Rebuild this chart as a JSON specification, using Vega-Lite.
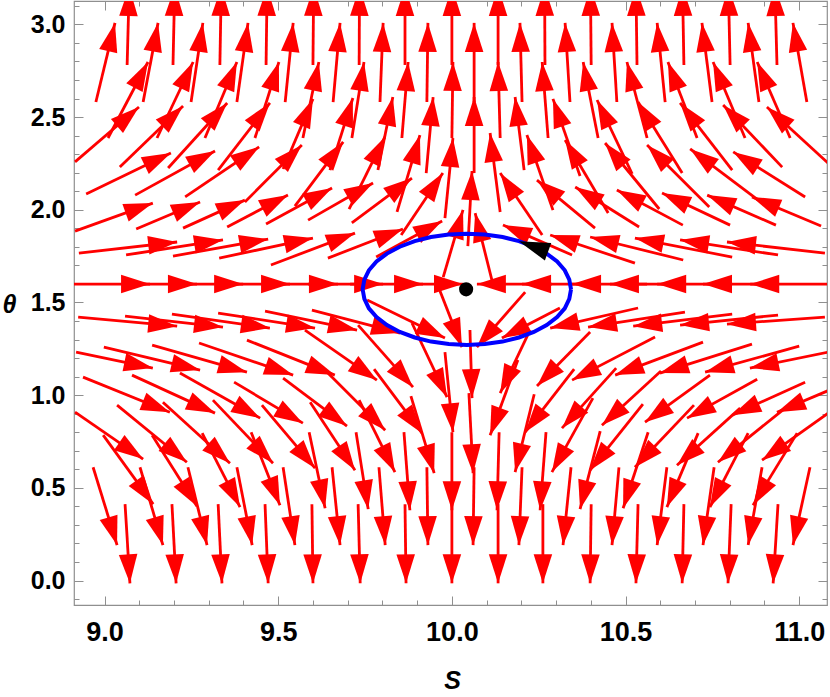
{
"$schema":"https://vega.github.io/schema/vega-lite/v6.json",
"width":753,"height":604,"autosize":"none",
"padding":{"left":74,"top":1,"right":3,"bottom":92},
"background":"white",
"config":{"font":"Liberation Sans","view":{"stroke":"#8f8f8f","strokeWidth":1.2}},
"datasets":{
"arrows":[
{"s0":9.065,"t0":2.781,"s1":9.071,"t1":3.202,"a":1.5},
{"s0":9.197,"t0":2.781,"s1":9.202,"t1":3.202,"a":1.3},
{"s0":9.332,"t0":2.781,"s1":9.336,"t1":3.202,"a":1.1},
{"s0":9.465,"t0":2.781,"s1":9.468,"t1":3.202,"a":0.8},
{"s0":9.600,"t0":2.781,"s1":9.602,"t1":3.202,"a":0.6},
{"s0":9.733,"t0":2.781,"s1":9.734,"t1":3.202,"a":0.3},
{"s0":9.865,"t0":2.781,"s1":9.865,"t1":3.202,"a":0},
{"s0":10.000,"t0":2.781,"s1":10.000,"t1":3.202,"a":0},
{"s0":10.133,"t0":2.781,"s1":10.133,"t1":3.202,"a":0},
{"s0":10.268,"t0":2.781,"s1":10.267,"t1":3.202,"a":-0.3},
{"s0":10.401,"t0":2.781,"s1":10.399,"t1":3.202,"a":-0.6},
{"s0":10.533,"t0":2.781,"s1":10.530,"t1":3.202,"a":-0.8},
{"s0":10.668,"t0":2.781,"s1":10.664,"t1":3.202,"a":-1.1},
{"s0":10.801,"t0":2.781,"s1":10.796,"t1":3.202,"a":-1.3},
{"s0":10.936,"t0":2.781,"s1":10.930,"t1":3.202,"a":-1.5},
{"s0":8.975,"t0":2.581,"s1":9.030,"t1":3.008,"a":13.5},
{"s0":9.111,"t0":2.581,"s1":9.154,"t1":3.008,"a":10.7},
{"s0":9.249,"t0":2.581,"s1":9.283,"t1":3.008,"a":8.6},
{"s0":9.381,"t0":2.581,"s1":9.413,"t1":3.008,"a":7.9},
{"s0":9.520,"t0":2.581,"s1":9.543,"t1":3.008,"a":5.8},
{"s0":9.658,"t0":2.581,"s1":9.678,"t1":3.008,"a":5.1},
{"s0":9.793,"t0":2.581,"s1":9.802,"t1":3.008,"a":2.2},
{"s0":9.928,"t0":2.581,"s1":9.931,"t1":3.008,"a":0.7},
{"s0":10.064,"t0":2.581,"s1":10.064,"t1":3.008,"a":0},
{"s0":10.202,"t0":2.581,"s1":10.196,"t1":3.008,"a":-1.4},
{"s0":10.340,"t0":2.581,"s1":10.326,"t1":3.008,"a":-3.6},
{"s0":10.475,"t0":2.581,"s1":10.461,"t1":3.008,"a":-3.6},
{"s0":10.614,"t0":2.581,"s1":10.591,"t1":3.008,"a":-5.8},
{"s0":10.749,"t0":2.581,"s1":10.720,"t1":3.008,"a":-7.2},
{"s0":10.884,"t0":2.581,"s1":10.853,"t1":3.008,"a":-7.9},
{"s0":11.022,"t0":2.581,"s1":10.982,"t1":3.008,"a":-10.0},
{"s0":9.010,"t0":2.387,"s1":9.125,"t1":2.797,"a":27.8},
{"s0":9.151,"t0":2.387,"s1":9.255,"t1":2.797,"a":25.3},
{"s0":9.289,"t0":2.387,"s1":9.381,"t1":2.797,"a":22.8},
{"s0":9.433,"t0":2.387,"s1":9.502,"t1":2.797,"a":17.5},
{"s0":9.571,"t0":2.387,"s1":9.617,"t1":2.797,"a":11.9},
{"s0":9.712,"t0":2.387,"s1":9.747,"t1":2.797,"a":9.0},
{"s0":9.856,"t0":2.387,"s1":9.874,"t1":2.797,"a":4.5},
{"s0":10.000,"t0":2.387,"s1":10.003,"t1":2.797,"a":0.8},
{"s0":10.139,"t0":2.387,"s1":10.133,"t1":2.797,"a":-1.5},
{"s0":10.277,"t0":2.387,"s1":10.260,"t1":2.797,"a":-4.5},
{"s0":10.421,"t0":2.387,"s1":10.378,"t1":2.797,"a":-11.2},
{"s0":10.562,"t0":2.387,"s1":10.504,"t1":2.797,"a":-14.8},
{"s0":10.706,"t0":2.387,"s1":10.622,"t1":2.797,"a":-20.9},
{"s0":10.844,"t0":2.387,"s1":10.752,"t1":2.797,"a":-22.8},
{"s0":10.974,"t0":2.387,"s1":10.879,"t1":2.797,"a":-23.5},
{"s0":8.915,"t0":2.258,"s1":9.099,"t1":2.554,"a":49.3},
{"s0":9.044,"t0":2.230,"s1":9.226,"t1":2.560,"a":45.9},
{"s0":9.183,"t0":2.225,"s1":9.353,"t1":2.576,"a":42.2},
{"s0":9.327,"t0":2.214,"s1":9.476,"t1":2.576,"a":37.8},
{"s0":9.514,"t0":2.220,"s1":9.600,"t1":2.598,"a":23.2},
{"s0":9.649,"t0":2.214,"s1":9.715,"t1":2.603,"a":17.7},
{"s0":9.787,"t0":2.214,"s1":9.830,"t1":2.608,"a":11.6},
{"s0":9.926,"t0":2.198,"s1":9.946,"t1":2.608,"a":5.3},
{"s0":10.064,"t0":2.198,"s1":10.064,"t1":2.608,"a":0},
{"s0":10.208,"t0":2.214,"s1":10.182,"t1":2.608,"a":-7.0},
{"s0":10.369,"t0":2.182,"s1":10.291,"t1":2.598,"a":-19.3},
{"s0":10.519,"t0":2.193,"s1":10.418,"t1":2.592,"a":-25.6},
{"s0":10.663,"t0":2.198,"s1":10.536,"t1":2.581,"a":-32.2},
{"s0":10.807,"t0":2.214,"s1":10.657,"t1":2.576,"a":-37.8},
{"s0":10.951,"t0":2.230,"s1":10.781,"t1":2.565,"a":-43.6},
{"s0":11.083,"t0":2.252,"s1":10.907,"t1":2.554,"a":-47.4},
{"s0":8.947,"t0":2.085,"s1":9.191,"t1":2.306,"a":64.3},
{"s0":9.088,"t0":2.079,"s1":9.318,"t1":2.317,"a":61.2},
{"s0":9.232,"t0":2.069,"s1":9.445,"t1":2.339,"a":55.9},
{"s0":9.404,"t0":2.042,"s1":9.568,"t1":2.349,"a":45.0},
{"s0":9.548,"t0":2.020,"s1":9.687,"t1":2.366,"a":36.9},
{"s0":9.704,"t0":2.004,"s1":9.807,"t1":2.393,"a":26.6},
{"s0":9.842,"t0":1.988,"s1":9.908,"t1":2.403,"a":16.6},
{"s0":9.980,"t0":1.955,"s1":10.003,"t1":2.387,"a":5.7},
{"s0":10.139,"t0":1.988,"s1":10.110,"t1":2.414,"a":-7.2},
{"s0":10.291,"t0":1.998,"s1":10.216,"t1":2.403,"a":-19.1},
{"s0":10.450,"t0":1.982,"s1":10.326,"t1":2.376,"a":-30.5},
{"s0":10.597,"t0":2.004,"s1":10.441,"t1":2.360,"a":-39.3},
{"s0":10.741,"t0":2.015,"s1":10.562,"t1":2.349,"a":-45.0},
{"s0":10.882,"t0":2.052,"s1":10.686,"t1":2.328,"a":-53.1},
{"s0":11.017,"t0":2.069,"s1":10.810,"t1":2.312,"a":-58.0},
{"s0":8.915,"t0":1.885,"s1":9.139,"t1":2.036,"a":70.3},
{"s0":9.091,"t0":1.896,"s1":9.275,"t1":2.042,"a":67.1},
{"s0":9.226,"t0":1.901,"s1":9.404,"t1":2.052,"a":65.7},
{"s0":9.353,"t0":1.907,"s1":9.528,"t1":2.079,"a":62.3},
{"s0":9.465,"t0":1.923,"s1":9.655,"t1":2.117,"a":61.4},
{"s0":9.586,"t0":1.944,"s1":9.773,"t1":2.144,"a":60.4},
{"s0":9.712,"t0":1.929,"s1":9.885,"t1":2.171,"a":53.1},
{"s0":9.854,"t0":1.864,"s1":9.974,"t1":2.198,"a":34.1},
{"s0":10.046,"t0":1.804,"s1":10.058,"t1":2.209,"a":3.1},
{"s0":10.260,"t0":1.864,"s1":10.139,"t1":2.198,"a":-34.1},
{"s0":10.412,"t0":1.901,"s1":10.245,"t1":2.160,"a":-50.4},
{"s0":10.539,"t0":1.907,"s1":10.355,"t1":2.123,"a":-58.0},
{"s0":10.665,"t0":1.917,"s1":10.475,"t1":2.106,"a":-62.1},
{"s0":10.801,"t0":1.917,"s1":10.605,"t1":2.090,"a":-64.8},
{"s0":10.933,"t0":1.917,"s1":10.735,"t1":2.079,"a":-66.5},
{"s0":11.063,"t0":1.912,"s1":10.864,"t1":2.069,"a":-67.2},
{"s0":8.926,"t0":1.766,"s1":9.209,"t1":1.826,"a":83.6},
{"s0":9.062,"t0":1.756,"s1":9.341,"t1":1.837,"a":81.2},
{"s0":9.197,"t0":1.750,"s1":9.471,"t1":1.842,"a":79.9},
{"s0":9.330,"t0":1.739,"s1":9.600,"t1":1.847,"a":78.0},
{"s0":9.479,"t0":1.702,"s1":9.721,"t1":1.874,"a":69.1},
{"s0":9.643,"t0":1.739,"s1":9.859,"t1":1.896,"a":68.9},
{"s0":9.782,"t0":1.745,"s1":9.972,"t1":1.939,"a":61.4},
{"s0":9.975,"t0":1.637,"s1":10.032,"t1":1.999,"a":16.6},
{"s0":10.116,"t0":1.615,"s1":10.067,"t1":1.982,"a":-14.0},
{"s0":10.346,"t0":1.756,"s1":10.147,"t1":1.918,"a":-66.5},
{"s0":10.527,"t0":1.712,"s1":10.283,"t1":1.864,"a":-71.8},
{"s0":10.666,"t0":1.729,"s1":10.398,"t1":1.853,"a":-76.1},
{"s0":10.807,"t0":1.745,"s1":10.527,"t1":1.847,"a":-78.9},
{"s0":10.939,"t0":1.756,"s1":10.657,"t1":1.837,"a":-81.3},
{"s0":11.074,"t0":1.766,"s1":10.792,"t1":1.826,"a":-83.6},
{"s0":8.912,"t0":1.599,"s1":9.131,"t1":1.599,"a":90},
{"s0":9.050,"t0":1.599,"s1":9.266,"t1":1.599,"a":90},
{"s0":9.183,"t0":1.599,"s1":9.399,"t1":1.599,"a":90},
{"s0":9.318,"t0":1.599,"s1":9.534,"t1":1.599,"a":90},
{"s0":9.456,"t0":1.599,"s1":9.672,"t1":1.599,"a":90},
{"s0":9.586,"t0":1.599,"s1":9.802,"t1":1.599,"a":90},
{"s0":9.707,"t0":1.599,"s1":9.917,"t1":1.599,"a":90},
{"s0":9.836,"t0":1.599,"s1":10.032,"t1":1.599,"a":90},
{"s0":10.288,"t0":1.599,"s1":10.072,"t1":1.599,"a":-90},
{"s0":10.418,"t0":1.599,"s1":10.202,"t1":1.599,"a":-90},
{"s0":10.562,"t0":1.599,"s1":10.346,"t1":1.599,"a":-90},
{"s0":10.671,"t0":1.599,"s1":10.455,"t1":1.599,"a":-90},
{"s0":10.807,"t0":1.599,"s1":10.591,"t1":1.599,"a":-90},
{"s0":10.939,"t0":1.599,"s1":10.723,"t1":1.599,"a":-90},
{"s0":11.080,"t0":1.599,"s1":10.859,"t1":1.599,"a":-90},
{"s0":8.924,"t0":1.421,"s1":9.209,"t1":1.372,"a":95.2},
{"s0":9.059,"t0":1.426,"s1":9.341,"t1":1.367,"a":96.4},
{"s0":9.194,"t0":1.437,"s1":9.476,"t1":1.362,"a":98.1},
{"s0":9.327,"t0":1.443,"s1":9.606,"t1":1.362,"a":98.8},
{"s0":9.462,"t0":1.453,"s1":9.727,"t1":1.351,"a":101.7},
{"s0":9.597,"t0":1.459,"s1":9.851,"t1":1.335,"a":104.6},
{"s0":9.756,"t0":1.513,"s1":9.980,"t1":1.308,"a":116.0},
{"s0":9.957,"t0":1.604,"s1":10.029,"t1":1.259,"a":158.7},
{"s0":10.211,"t0":1.556,"s1":10.072,"t1":1.259,"a":-138.9},
{"s0":10.311,"t0":1.470,"s1":10.144,"t1":1.308,"a":-117.3},
{"s0":10.536,"t0":1.470,"s1":10.283,"t1":1.362,"a":-102.8},
{"s0":10.671,"t0":1.448,"s1":10.392,"t1":1.367,"a":-98.8},
{"s0":10.807,"t0":1.437,"s1":10.522,"t1":1.372,"a":-96.9},
{"s0":10.939,"t0":1.432,"s1":10.657,"t1":1.378,"a":-95.8},
{"s0":11.074,"t0":1.421,"s1":10.792,"t1":1.383,"a":-94.1},
{"s0":8.918,"t0":1.232,"s1":9.139,"t1":1.146,"a":101.7},
{"s0":8.998,"t0":1.259,"s1":9.275,"t1":1.135,"a":103.5},
{"s0":9.137,"t0":1.270,"s1":9.410,"t1":1.124,"a":105.9},
{"s0":9.272,"t0":1.281,"s1":9.543,"t1":1.108,"a":108.8},
{"s0":9.410,"t0":1.297,"s1":9.663,"t1":1.108,"a":111.7},
{"s0":9.577,"t0":1.351,"s1":9.784,"t1":1.081,"a":124.8},
{"s0":9.730,"t0":1.378,"s1":9.888,"t1":1.043,"a":138.4},
{"s0":9.885,"t0":1.389,"s1":9.986,"t1":0.989,"a":154.7},
{"s0":10.052,"t0":1.351,"s1":10.058,"t1":0.984,"a":178.3},
{"s0":10.225,"t0":1.351,"s1":10.139,"t1":1.011,"a":-154.5},
{"s0":10.398,"t0":1.340,"s1":10.245,"t1":1.049,"a":-135.5},
{"s0":10.585,"t0":1.313,"s1":10.346,"t1":1.081,"a":-117.4},
{"s0":10.723,"t0":1.286,"s1":10.470,"t1":1.108,"a":-110.6},
{"s0":10.864,"t0":1.275,"s1":10.599,"t1":1.119,"a":-107.5},
{"s0":11.000,"t0":1.264,"s1":10.729,"t1":1.124,"a":-105.5},
{"s0":11.083,"t0":1.232,"s1":10.858,"t1":1.146,"a":-101.6},
{"s0":8.938,"t0":1.097,"s1":9.188,"t1":0.908,"a":111.9},
{"s0":9.079,"t0":1.108,"s1":9.318,"t1":0.903,"a":114.6},
{"s0":9.217,"t0":1.119,"s1":9.448,"t1":0.876,"a":119.4},
{"s0":9.373,"t0":1.070,"s1":9.571,"t1":0.849,"a":120.5},
{"s0":9.514,"t0":1.092,"s1":9.698,"t1":0.833,"a":126.5},
{"s0":9.643,"t0":1.119,"s1":9.808,"t1":0.811,"a":135.0},
{"s0":9.776,"t0":1.140,"s1":9.914,"t1":0.795,"a":143.1},
{"s0":9.980,"t0":1.232,"s1":10.003,"t1":0.800,"a":174.3},
{"s0":10.190,"t0":1.189,"s1":10.110,"t1":0.784,"a":-159.7},
{"s0":10.352,"t0":1.140,"s1":10.211,"t1":0.800,"a":-142.4},
{"s0":10.473,"t0":1.146,"s1":10.317,"t1":0.822,"a":-138.0},
{"s0":10.602,"t0":1.130,"s1":10.432,"t1":0.838,"a":-132.3},
{"s0":10.743,"t0":1.108,"s1":10.556,"t1":0.854,"a":-125.5},
{"s0":10.879,"t0":1.086,"s1":10.677,"t1":0.876,"a":-119.0},
{"s0":11.017,"t0":1.070,"s1":10.807,"t1":0.892,"a":-114.4},
{"s0":11.149,"t0":1.076,"s1":10.936,"t1":0.908,"a":-112.6},
{"s0":8.915,"t0":0.908,"s1":9.111,"t1":0.655,"a":124.6},
{"s0":9.036,"t0":0.946,"s1":9.237,"t1":0.638,"a":129.2},
{"s0":9.168,"t0":0.962,"s1":9.361,"t1":0.633,"a":132.3},
{"s0":9.312,"t0":0.973,"s1":9.485,"t1":0.633,"a":136.4},
{"s0":9.453,"t0":0.946,"s1":9.606,"t1":0.606,"a":140.1},
{"s0":9.592,"t0":0.962,"s1":9.721,"t1":0.595,"a":146.5},
{"s0":9.733,"t0":0.973,"s1":9.836,"t1":0.585,"a":153.4},
{"s0":9.882,"t0":0.995,"s1":9.949,"t1":0.579,"a":163.4},
{"s0":10.049,"t0":1.011,"s1":10.061,"t1":0.579,"a":177.1},
{"s0":10.237,"t0":1.005,"s1":10.182,"t1":0.585,"a":-166.3},
{"s0":10.406,"t0":0.984,"s1":10.288,"t1":0.585,"a":-151.0},
{"s0":10.550,"t0":0.951,"s1":10.398,"t1":0.595,"a":-141.2},
{"s0":10.697,"t0":0.946,"s1":10.527,"t1":0.611,"a":-136.4},
{"s0":10.830,"t0":0.930,"s1":10.648,"t1":0.622,"a":-132.1},
{"s0":10.956,"t0":0.925,"s1":10.766,"t1":0.638,"a":-128.8},
{"s0":11.092,"t0":0.914,"s1":10.893,"t1":0.649,"a":-125.4},
{"s0":8.996,"t0":0.784,"s1":9.140,"t1":0.412,"a":144.1},
{"s0":9.137,"t0":0.784,"s1":9.266,"t1":0.401,"a":147.6},
{"s0":9.281,"t0":0.795,"s1":9.390,"t1":0.396,"a":152.8},
{"s0":9.422,"t0":0.800,"s1":9.505,"t1":0.406,"a":158.3},
{"s0":9.589,"t0":0.800,"s1":9.635,"t1":0.390,"a":168.1},
{"s0":9.724,"t0":0.800,"s1":9.759,"t1":0.385,"a":171.1},
{"s0":9.862,"t0":0.800,"s1":9.879,"t1":0.379,"a":175.6},
{"s0":10.000,"t0":0.800,"s1":10.000,"t1":0.379,"a":180},
{"s0":10.136,"t0":0.800,"s1":10.130,"t1":0.379,"a":-178.5},
{"s0":10.271,"t0":0.800,"s1":10.254,"t1":0.379,"a":-175.6},
{"s0":10.427,"t0":0.806,"s1":10.369,"t1":0.385,"a":-165.6},
{"s0":10.565,"t0":0.800,"s1":10.493,"t1":0.390,"a":-161.8},
{"s0":10.709,"t0":0.795,"s1":10.619,"t1":0.396,"a":-157.3},
{"s0":10.853,"t0":0.795,"s1":10.743,"t1":0.396,"a":-152.8},
{"s0":10.994,"t0":0.795,"s1":10.867,"t1":0.406,"a":-148.6},
{"s0":8.967,"t0":0.611,"s1":9.036,"t1":0.191,"a":163.0},
{"s0":9.102,"t0":0.611,"s1":9.168,"t1":0.191,"a":163.6},
{"s0":9.240,"t0":0.611,"s1":9.295,"t1":0.191,"a":166.3},
{"s0":9.381,"t0":0.611,"s1":9.425,"t1":0.191,"a":169.1},
{"s0":9.514,"t0":0.611,"s1":9.548,"t1":0.191,"a":171.3},
{"s0":9.655,"t0":0.611,"s1":9.678,"t1":0.191,"a":174.1},
{"s0":9.790,"t0":0.611,"s1":9.808,"t1":0.191,"a":175.6},
{"s0":9.928,"t0":0.611,"s1":9.931,"t1":0.191,"a":179.3},
{"s0":10.064,"t0":0.611,"s1":10.061,"t1":0.191,"a":-179.3},
{"s0":10.202,"t0":0.611,"s1":10.193,"t1":0.191,"a":-177.8},
{"s0":10.343,"t0":0.611,"s1":10.320,"t1":0.191,"a":-174.1},
{"s0":10.481,"t0":0.611,"s1":10.461,"t1":0.191,"a":-174.9},
{"s0":10.619,"t0":0.611,"s1":10.591,"t1":0.191,"a":-172.7},
{"s0":10.755,"t0":0.611,"s1":10.723,"t1":0.191,"a":-172.0},
{"s0":10.893,"t0":0.611,"s1":10.853,"t1":0.191,"a":-169.8},
{"s0":11.031,"t0":0.611,"s1":10.982,"t1":0.191,"a":-167.7},
{"s0":9.059,"t0":0.412,"s1":9.073,"t1":-0.015,"a":176.4},
{"s0":9.194,"t0":0.412,"s1":9.206,"t1":-0.015,"a":177.1},
{"s0":9.327,"t0":0.412,"s1":9.338,"t1":-0.015,"a":177.1},
{"s0":9.462,"t0":0.412,"s1":9.471,"t1":-0.015,"a":177.8},
{"s0":9.597,"t0":0.412,"s1":9.600,"t1":-0.015,"a":179.3},
{"s0":9.730,"t0":0.412,"s1":9.736,"t1":-0.015,"a":178.5},
{"s0":9.865,"t0":0.412,"s1":9.868,"t1":-0.015,"a":179.3},
{"s0":10.000,"t0":0.412,"s1":10.000,"t1":-0.015,"a":180},
{"s0":10.133,"t0":0.412,"s1":10.133,"t1":-0.015,"a":180},
{"s0":10.262,"t0":0.412,"s1":10.262,"t1":-0.015,"a":180},
{"s0":10.401,"t0":0.412,"s1":10.398,"t1":-0.015,"a":-179.3},
{"s0":10.536,"t0":0.412,"s1":10.530,"t1":-0.015,"a":-178.5},
{"s0":10.668,"t0":0.412,"s1":10.663,"t1":-0.015,"a":-178.5},
{"s0":10.804,"t0":0.412,"s1":10.795,"t1":-0.015,"a":-177.8},
{"s0":10.939,"t0":0.412,"s1":10.925,"t1":-0.015,"a":-176.4}
],
"orbit":[
{"k":0,"s":10.343,"t":1.5708},{"k":1,"s":10.338,"t":1.6229},{"k":2,"s":10.325,"t":1.6734},{"k":3,"s":10.303,"t":1.7208},
{"k":4,"s":10.273,"t":1.7636},{"k":5,"s":10.236,"t":1.8006},{"k":6,"s":10.193,"t":1.8306},{"k":7,"s":10.146,"t":1.8527},
{"k":8,"s":10.095,"t":1.8662},{"k":9,"s":10.043,"t":1.8708},{"k":10,"s":9.991,"t":1.8662},{"k":11,"s":9.940,"t":1.8527},
{"k":12,"s":9.893,"t":1.8306},{"k":13,"s":9.850,"t":1.8006},{"k":14,"s":9.813,"t":1.7636},{"k":15,"s":9.783,"t":1.7208},
{"k":16,"s":9.761,"t":1.6734},{"k":17,"s":9.748,"t":1.6229},{"k":18,"s":9.743,"t":1.5708},{"k":19,"s":9.748,"t":1.5187},
{"k":20,"s":9.761,"t":1.4682},{"k":21,"s":9.783,"t":1.4208},{"k":22,"s":9.813,"t":1.3780},{"k":23,"s":9.850,"t":1.3410},
{"k":24,"s":9.893,"t":1.3110},{"k":25,"s":9.940,"t":1.2889},{"k":26,"s":9.991,"t":1.2754},{"k":27,"s":10.043,"t":1.2708},
{"k":28,"s":10.095,"t":1.2754},{"k":29,"s":10.146,"t":1.2889},{"k":30,"s":10.193,"t":1.3110},{"k":31,"s":10.236,"t":1.3410},
{"k":32,"s":10.273,"t":1.3780},{"k":33,"s":10.303,"t":1.4208},{"k":34,"s":10.325,"t":1.4682},{"k":35,"s":10.338,"t":1.5187},
{"k":36,"s":10.343,"t":1.5708}
],
"marker":[{"s":10.193,"t":1.8306,"a":-70}],
"dot":[{"s":10.041,"t":1.5708}]
},
"layer":[
{"data":{"name":"arrows"},
 "mark":{"type":"rule","color":"#ff0000","strokeWidth":2.8,"clip":true},
 "encoding":{
  "x":{"field":"s0","type":"quantitative","scale":{"domain":[8.912,11.08],"nice":false,"zero":false},
   "axis":{"orient":"bottom","values":[9,9.1,9.2,9.3,9.4,9.5,9.6,9.7,9.8,9.9,10,10.1,10.2,10.3,10.4,10.5,10.6,10.7,10.8,10.9,11],
    "grid":false,"domain":false,"tickColor":"#8f8f8f","tickWidth":1,
    "tickSize":{"condition":{"test":"abs(datum.value*2-round(datum.value*2))<0.001","value":-9},"value":-5},
    "labelExpr":"abs(datum.value*2-round(datum.value*2))<0.001 ? format(datum.value,'.1f') : ''",
    "labelFont":"Liberation Sans","labelFontWeight":"bold","labelFontSize":27,"labelColor":"black",
    "labelPadding":23,"labelFlush":false,"labelOverlap":false,"labelBound":false,
    "title":"S","titleFont":"Liberation Sans","titleFontWeight":"bold","titleFontStyle":"italic","titleFontSize":25,"titleColor":"black",
    "titleX":378,"titleY":83,"titleAlign":"center","titleBaseline":"alphabetic"}},
  "y":{"field":"t0","type":"quantitative","scale":{"domain":[-0.132,3.126],"nice":false,"zero":false},
   "axis":{"orient":"left","values":[-0.1,0,0.1,0.2,0.3,0.4,0.5,0.6,0.7,0.8,0.9,1,1.1,1.2,1.3,1.4,1.5,1.6,1.7,1.8,1.9,2,2.1,2.2,2.3,2.4,2.5,2.6,2.7,2.8,2.9,3,3.1],
    "grid":false,"domain":false,"tickColor":"#8f8f8f","tickWidth":1,
    "tickSize":{"condition":{"test":"abs(datum.value*2-round(datum.value*2))<0.001","value":-9},"value":-5},
    "labelExpr":"abs(datum.value*2-round(datum.value*2))<0.001 ? format(datum.value,'.1f') : ''",
    "labelFont":"Liberation Sans","labelFontWeight":"bold","labelFontSize":25,"labelColor":"black",
    "labelPadding":18,"labelFlush":false,"labelOverlap":false,"labelBound":false,
    "title":"θ","titleFont":"Liberation Sans","titleFontWeight":"bold","titleFontStyle":"italic","titleFontSize":25,"titleColor":"black",
    "titleAngle":0,"titleX":-65,"titleY":311,"titleAlign":"center","titleBaseline":"alphabetic"}},
  "x2":{"field":"s1"},"y2":{"field":"t1"}}},
{"data":{"name":"arrows"},
 "mark":{"type":"point","shape":"M0,0L0.32,1L-0.32,1Z","filled":true,"color":"#ff0000","opacity":1,"size":3364,"strokeWidth":0,"clip":true},
 "encoding":{
  "x":{"field":"s1","type":"quantitative","scale":{"domain":[8.912,11.08],"nice":false,"zero":false},"axis":null},
  "y":{"field":"t1","type":"quantitative","scale":{"domain":[-0.132,3.126],"nice":false,"zero":false},"axis":null},
  "angle":{"field":"a","type":"quantitative","scale":null}}},
{"data":{"name":"orbit"},
 "mark":{"type":"line","color":"#0000ff","strokeWidth":4,"clip":true},
 "encoding":{
  "x":{"field":"s","type":"quantitative","scale":{"domain":[8.912,11.08],"nice":false,"zero":false},"axis":null},
  "y":{"field":"t","type":"quantitative","scale":{"domain":[-0.132,3.126],"nice":false,"zero":false},"axis":null},
  "order":{"field":"k","type":"quantitative"}}},
{"data":{"name":"marker"},
 "mark":{"type":"point","shape":"M0,0L0.3,1L-0.3,1Z","filled":true,"color":"#000000","opacity":1,"size":3844,"strokeWidth":0},
 "encoding":{
  "x":{"field":"s","type":"quantitative","scale":{"domain":[8.912,11.08],"nice":false,"zero":false},"axis":null},
  "y":{"field":"t","type":"quantitative","scale":{"domain":[-0.132,3.126],"nice":false,"zero":false},"axis":null},
  "angle":{"field":"a","type":"quantitative","scale":null}}},
{"data":{"name":"dot"},
 "mark":{"type":"point","shape":"circle","filled":true,"color":"#000000","opacity":1,"size":200},
 "encoding":{
  "x":{"field":"s","type":"quantitative","scale":{"domain":[8.912,11.08],"nice":false,"zero":false},
   "axis":{"orient":"top","values":[9,9.1,9.2,9.3,9.4,9.5,9.6,9.7,9.8,9.9,10,10.1,10.2,10.3,10.4,10.5,10.6,10.7,10.8,10.9,11],
    "labels":false,"title":null,"grid":false,"domain":false,"tickColor":"#8f8f8f","tickWidth":1,
    "tickSize":{"condition":{"test":"abs(datum.value*2-round(datum.value*2))<0.001","value":-9},"value":-5}}},
  "y":{"field":"t","type":"quantitative","scale":{"domain":[-0.132,3.126],"nice":false,"zero":false},
   "axis":{"orient":"right","values":[-0.1,0,0.1,0.2,0.3,0.4,0.5,0.6,0.7,0.8,0.9,1,1.1,1.2,1.3,1.4,1.5,1.6,1.7,1.8,1.9,2,2.1,2.2,2.3,2.4,2.5,2.6,2.7,2.8,2.9,3,3.1],
    "labels":false,"title":null,"grid":false,"domain":false,"tickColor":"#8f8f8f","tickWidth":1,
    "tickSize":{"condition":{"test":"abs(datum.value*2-round(datum.value*2))<0.001","value":-9},"value":-5}}}}}
],
"resolve":{"axis":{"x":"independent","y":"independent"}}
}
